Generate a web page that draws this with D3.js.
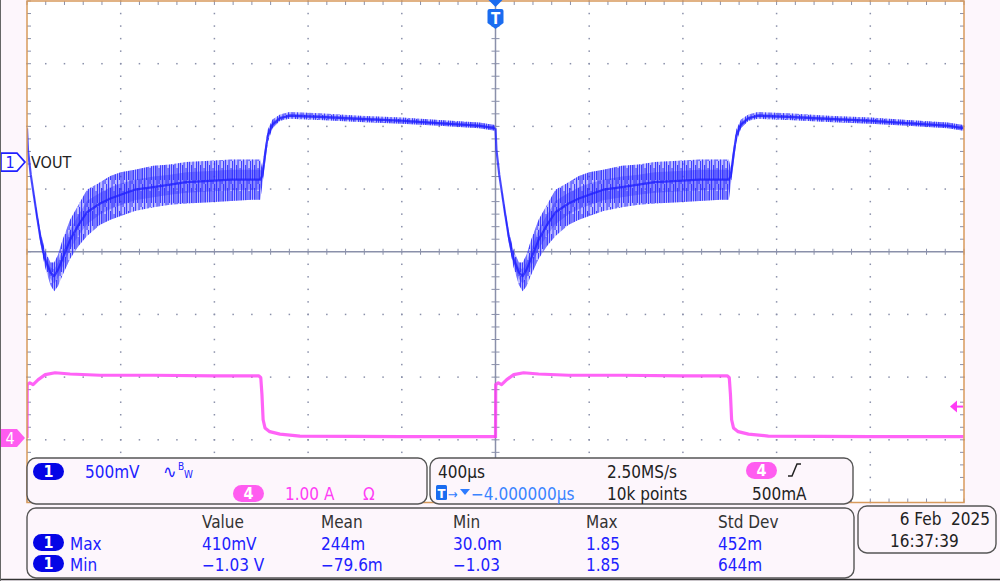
<!DOCTYPE html>
<html>
<head>
<meta charset="utf-8">
<script src="https://cdn.jsdelivr.net/npm/d3@7"></script>
<style>
  html, body { margin: 0; padding: 0; background: #fdf6fc; }
  svg { display: block; font-family: "DejaVu Sans Condensed", "DejaVu Sans", sans-serif; }
</style>
</head>
<body>
<svg id="scope" width="1000" height="581"></svg>
<script>
// one load cycle starts at each of these times (µs, trigger at 0)
const cycleStarts = [-2000, 0];

// channel 1 (VOUT): time after load step (µs), trace centre and ripple envelope (V)
const vTime = [0, 4, 16, 40, 56, 76, 100, 116, 132, 152, 184, 220, 256, 312, 356, 400, 460, 540, 610, 680,
  780, 870, 960, 996, 1004, 1016, 1028, 1048, 1080, 1120, 1250, 1420, 1600, 1760, 1930, 1998];
const vMid = [0.27, 0.10, -0.10, -0.40, -0.59, -0.77, -0.88, -0.91, -0.86, -0.77, -0.62, -0.50, -0.40, -0.33, -0.29, -0.26, -0.22, -0.20, -0.18, -0.16,
  -0.15, -0.14, -0.14, -0.14, -0.11, 0.06, 0.21, 0.30, 0.35, 0.37, 0.36, 0.345, 0.33, 0.31, 0.29, 0.27];
const vHi = [0.27, 0.10, -0.10, -0.37, -0.54, -0.70, -0.80, -0.80, -0.74, -0.62, -0.46, -0.34, -0.22, -0.16, -0.11, -0.08, -0.06, -0.03, -0.02, 0.00,
  0.01, 0.02, 0.02, 0.02, -0.05, 0.11, 0.26, 0.34, 0.38, 0.40, 0.39, 0.37, 0.355, 0.335, 0.315, 0.295];
const vLo = [0.27, 0.10, -0.10, -0.43, -0.64, -0.83, -0.98, -1.03, -0.99, -0.90, -0.77, -0.67, -0.59, -0.50, -0.46, -0.43, -0.39, -0.36, -0.34, -0.33,
  -0.32, -0.31, -0.30, -0.30, -0.19, -0.02, 0.16, 0.27, 0.33, 0.345, 0.335, 0.32, 0.305, 0.29, 0.27, 0.25];

// channel 4 (load current): time after load step (µs), amps
const iTime = [0, 1, 12, 26, 48, 78, 120, 184, 312, 540, 800, 990, 998, 1003, 1008, 1016, 1036, 1080, 1165, 1600, 1998];
const iVal = [0, 0.85, 0.88, 0.85, 0.93, 1.01, 1.04, 1.02, 1.00, 1.00, 0.99, 0.99, 0.96, 0.69, 0.29, 0.16, 0.10, 0.06, 0.03, 0.02, 0.02];
const trigLevel = 0.5;

// readouts
const ch1Label = 'VOUT';
const ch1Scale = '500mV';
const ch4Scale = '1.00 A';
const timebase = '400µs';
const sampleRate = '2.50MS/s';
const trigDelay = '−4.000000µs';
const recordLen = '10k points';
const trigText = '500mA';
const measHeaders = ['Value', 'Mean', 'Min', 'Max', 'Std Dev'];
const measNames = ['Max', 'Min'];
const measValues = [
  ['410mV', '244m', '30.0m', '1.85', '452m'],
  ['−1.03 V', '−79.6m', '−1.03', '1.85', '644m'],
];
const dateText = '6 Feb  2025';
const timeText = '16:37:39';

const BLUE = '#2020ff';
const PILL_BLUE = '#0505e6';
const PINK = '#ff3cf5';
const PILL_PINK = '#ff5cf0';
const GRID = '#8a90aa';

const L = 27, R = 964, T = 1, B = 502.5;
const svg = d3.select('#scope');

const x = d3.scaleLinear().domain([-2000, 2000]).range([L, R]);
const y1 = d3.scaleLinear().domain([-2.715, 1.285]).range([B, T]);
const y4 = d3.scaleLinear().domain([-1.03, 6.97]).range([B, T]);
const gx = d3.scaleLinear().domain([0, 10]).range([L, R]);
const gy = d3.scaleLinear().domain([0, 8]).range([B, T]);

// plot background
svg.append('rect').attr('x', L).attr('y', T).attr('width', R - L).attr('height', B - T).attr('fill', '#ffffff');

const defs = svg.append('defs');
defs.append('clipPath').attr('id', 'plotclip')
  .append('rect').attr('x', L).attr('y', T).attr('width', R - L).attr('height', B - T);
// irregular vertical streaks for the switching ripple
const pat = defs.append('pattern').attr('id', 'ripple')
  .attr('patternUnits', 'userSpaceOnUse').attr('width', 9).attr('height', 23);
[[0, 0, 23], [2, 4, 15], [3.5, 0, 23], [5.5, 7, 16], [7, 0, 19]].forEach(([px, py, h]) =>
  pat.append('rect').attr('x', px).attr('y', py).attr('width', 1.1).attr('height', h)
    .attr('fill', BLUE).attr('opacity', 0.8));

// grid dots
const grid = svg.append('g');
const minorX = d3.range(0, 10.001, 0.2);
const minorY = d3.range(0, 8.001, 0.2);
for (let i = 1; i < 10; i++) {
  if (i === 5) continue;
  minorY.forEach(d => grid.append('rect').attr('x', gx(i) - 0.75).attr('y', gy(d) - 0.75)
    .attr('width', 1.5).attr('height', 1.5).attr('fill', GRID));
}
for (let j = 1; j < 8; j++) {
  if (j === 4) continue;
  minorX.forEach(d => grid.append('rect').attr('x', gx(d) - 0.75).attr('y', gy(j) - 0.75)
    .attr('width', 1.5).attr('height', 1.5).attr('fill', GRID));
}
// centre axes with minor ticks
grid.append('line').attr('x1', L).attr('x2', R).attr('y1', gy(4)).attr('y2', gy(4))
  .attr('stroke', GRID).attr('stroke-width', 1.5);
grid.append('line').attr('x1', gx(5)).attr('x2', gx(5)).attr('y1', T).attr('y2', B)
  .attr('stroke', GRID).attr('stroke-width', 1.5);
minorX.forEach(d => grid.append('line').attr('x1', gx(d)).attr('x2', gx(d))
  .attr('y1', gy(4) - 3).attr('y2', gy(4) + 3).attr('stroke', GRID).attr('stroke-width', 1));
minorY.forEach(d => grid.append('line').attr('x1', gx(5) - 4).attr('x2', gx(5) + 4)
  .attr('y1', gy(d)).attr('y2', gy(d)).attr('stroke', GRID).attr('stroke-width', 1));
// border ticks
minorY.forEach(d => {
  grid.append('line').attr('x1', L).attr('x2', L + 4).attr('y1', gy(d)).attr('y2', gy(d)).attr('stroke', GRID);
  grid.append('line').attr('x1', R - 4).attr('x2', R).attr('y1', gy(d)).attr('y2', gy(d)).attr('stroke', GRID);
});
minorX.forEach(d => {
  grid.append('line').attr('x1', gx(d)).attr('x2', gx(d)).attr('y1', T).attr('y2', T + 4).attr('stroke', GRID);
  grid.append('line').attr('x1', gx(d)).attr('x2', gx(d)).attr('y1', B - 4).attr('y2', B).attr('stroke', GRID);
});

// traces
const traces = svg.append('g').attr('clip-path', 'url(#plotclip)');
const vPts = vTime.map((t, k) => ({ t, mid: vMid[k], hi: vHi[k], lo: vLo[k] }));
const iPts = iTime.map((t, k) => ({ t, a: iVal[k] }));

cycleStarts.forEach(t0 => {
  const band = d3.area().x(d => x(t0 + d.t)).y0(d => y1(d.lo)).y1(d => y1(d.hi));
  const core = d3.area().x(d => x(t0 + d.t))
    .y0(d => y1((d.mid + d.lo) / 2)).y1(d => y1((d.mid + d.hi) / 2));
  traces.append('path').datum(vPts).attr('d', band).attr('fill', 'rgba(90,90,255,0.4)');
  traces.append('path').datum(vPts).attr('d', band).attr('fill', 'url(#ripple)');
  traces.append('path').datum(vPts).attr('d', core).attr('fill', 'rgba(40,40,255,0.35)');
  traces.append('path').datum(vPts)
    .attr('d', d3.line().x(d => x(t0 + d.t)).y(d => y1(d.mid)))
    .attr('fill', 'none').attr('stroke', BLUE).attr('stroke-width', 2.2).attr('stroke-opacity', 0.8)
    .attr('stroke-linejoin', 'round');

  traces.append('path').datum(iPts)
    .attr('d', d3.line().x(d => x(t0 + d.t)).y(d => y4(d.a)))
    .attr('fill', 'none').attr('stroke', PINK).attr('stroke-width', 3.2).attr('stroke-opacity', 0.8)
    .attr('stroke-linejoin', 'round');
});

// frame
svg.append('rect').attr('x', L).attr('y', T).attr('width', R - L).attr('height', B - T)
  .attr('fill', 'none').attr('stroke', '#d89a5c').attr('stroke-width', 1.5);

// trigger marker at top
const tx = x(0);
svg.append('path').attr('d', `M${tx - 7},0 L${tx + 7},0 L${tx},7 Z`).attr('fill', '#1a6cf0');
svg.append('path')
  .attr('d', `M${tx - 8},11 Q${tx - 8},9 ${tx - 6},9 L${tx + 6},9 Q${tx + 8},9 ${tx + 8},11 L${tx + 8},23 L${tx},29 L${tx - 8},23 Z`)
  .attr('fill', '#1a6cf0');
svg.append('text').attr('x', tx).attr('y', 24).attr('text-anchor', 'middle')
  .attr('fill', '#fff').attr('font-size', 15).attr('font-weight', 'bold').text('T');

// channel 1 marker
const c1 = y1(0);
svg.append('path').attr('d', `M1,${c1 - 9} L17,${c1 - 9} L25,${c1} L17,${c1 + 9} L1,${c1 + 9} Z`)
  .attr('fill', '#fff').attr('stroke', BLUE).attr('stroke-width', 1.6);
svg.append('text').attr('x', 10).attr('y', c1 + 6).attr('text-anchor', 'middle')
  .attr('fill', BLUE).attr('font-size', 16).text('1');
svg.append('text').attr('x', 31).attr('y', c1 + 6).attr('fill', '#222').attr('font-size', 16).text(ch1Label);

// channel 4 marker
const c4 = y4(0);
svg.append('path').attr('d', `M1,${c4 - 9} L17,${c4 - 9} L25,${c4} L17,${c4 + 9} L1,${c4 + 9} Z`)
  .attr('fill', PILL_PINK);
svg.append('text').attr('x', 10).attr('y', c4 + 6).attr('text-anchor', 'middle')
  .attr('fill', '#fff').attr('font-size', 16).text('4');

// trigger level marker (right)
const tl = y4(trigLevel);
svg.append('path').attr('d', `M950,${tl} L957,${tl - 6} L957,${tl + 6} Z`).attr('fill', PINK);
svg.append('line').attr('x1', 956).attr('x2', 963).attr('y1', tl).attr('y2', tl)
  .attr('stroke', PINK).attr('stroke-width', 2);

// readout panels
const panel = (px, py, w, h) => svg.append('rect').attr('x', px).attr('y', py).attr('width', w).attr('height', h)
  .attr('rx', 9).attr('fill', '#fdf6fc').attr('stroke', '#555').attr('stroke-width', 1.4);
const txt = (tx0, ty0, s, color, size = 17, anchor = 'start') => svg.append('text')
  .attr('x', tx0).attr('y', ty0).attr('fill', color).attr('font-size', size).attr('text-anchor', anchor).text(s);
const pill = (px, py, label, color) => {
  svg.append('rect').attr('x', px).attr('y', py).attr('width', 31).attr('height', 17).attr('rx', 8.5).attr('fill', color);
  svg.append('text').attr('x', px + 15.5).attr('y', py + 14).attr('text-anchor', 'middle')
    .attr('fill', '#fff').attr('font-size', 16).attr('font-weight', 'bold').text(label);
};

panel(27, 458, 400, 46);
panel(430, 458, 423, 46);
panel(27, 508, 827, 70);
panel(858, 506, 138, 47);

// panel 1: vertical settings
pill(33, 463, '1', PILL_BLUE);
txt(85, 478, ch1Scale, BLUE);
txt(163, 478, '∿', BLUE, 18);
txt(178, 470, 'B', BLUE, 10);
txt(184, 478, 'W', BLUE, 10);
pill(233, 485, '4', PILL_PINK);
txt(285, 500, ch4Scale, PINK);
txt(363, 500, 'Ω', PINK);

// panel 2: horizontal and trigger
txt(438, 478, timebase, '#222');
txt(607, 478, sampleRate, '#222');
pill(746, 462, '4', PILL_PINK);
svg.append('path').attr('d', 'M788,476 L792,476 L797,464 L801,464').attr('fill', 'none').attr('stroke', '#222').attr('stroke-width', 1.5);
svg.append('rect').attr('x', 436).attr('y', 485).attr('width', 11).attr('height', 15).attr('rx', 1.5).attr('fill', '#1a6cf0');
txt(441.5, 498, 'T', '#fff', 13, 'middle').attr('font-weight', 'bold');
txt(448, 499, '→', '#2d7bff', 13);
svg.append('path').attr('d', 'M460,489 L470,489 L465,495 Z').attr('fill', '#2d7bff');
txt(471, 500, trigDelay, '#3a84ff');
txt(607, 500, recordLen, '#222');
txt(752, 500, trigText, '#222');

// panel 3: measurements
const colX = [202, 321, 453, 586, 718];
measHeaders.forEach((h, k) => txt(colX[k], 528, h, '#333'));
measNames.forEach((n, r) => {
  const base = 550 + r * 21;
  pill(33, base - 16, '1', PILL_BLUE);
  txt(70, base, n, BLUE);
  measValues[r].forEach((v, k) => txt(colX[k], base, v, BLUE));
});

// date box
txt(990, 525, dateText, '#222', 17, 'end').style('white-space', 'pre');
txt(890, 547, timeText, '#222');

// outer edges
svg.append('line').attr('x1', 0).attr('x2', 1000).attr('y1', 579.5).attr('y2', 579.5).attr('stroke', '#333').attr('stroke-width', 1.5);
svg.append('line').attr('x1', 0.5).attr('x2', 0.5).attr('y1', 0).attr('y2', 581).attr('stroke', '#666').attr('stroke-width', 1);
</script>
</body>
</html>
